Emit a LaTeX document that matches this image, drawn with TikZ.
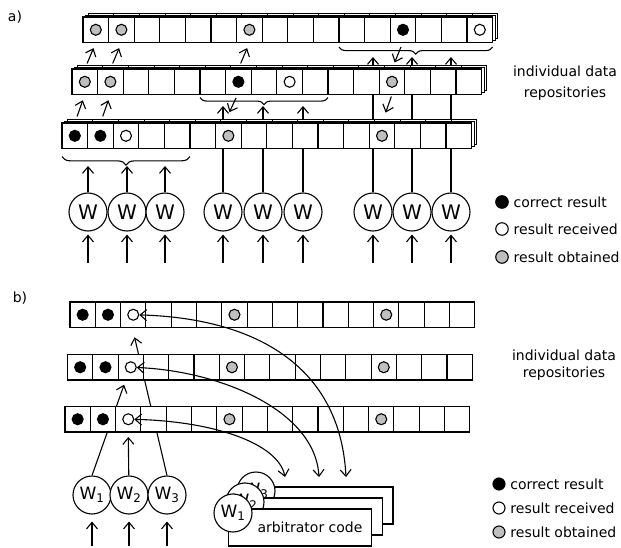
\documentclass[tikz,border=0pt]{standalone}
\usepackage{fontspec}
\setmainfont{DejaVu Sans}
\usepackage{tikz}
\usetikzlibrary{arrows.meta, positioning, decorations.pathreplacing, backgrounds}

\colorlet{okfill}{black}
\colorlet{rcvfill}{white}
\colorlet{gotfill}{gray!50}

\begin{document}
\begin{tikzpicture}[
  x=1pt, y=-1pt,
  line width=1.1pt,
  font=\fontsize{14}{17}\selectfont,
  cell/.style={rectangle, draw, fill=white, minimum width=25.6pt, minimum height=25.6pt, inner sep=0pt, outer sep=0pt},
  bcell/.style={cell, minimum width=25.3pt, minimum height=25.5pt},
  layer/.style={draw, fill=white, line width=0.6pt},
  dot/.style={circle, draw, minimum size=11pt, inner sep=0pt},
  keydot/.style={dot, minimum size=12.5pt},
  wnode/.style={circle, draw, fill=white, minimum size=38pt, inner sep=0pt, font=\fontsize{20}{24}\selectfont},
  wsub/.style={wnode, font=\fontsize{17}{20}\selectfont},
  arbbox/.style={rectangle, draw, fill=white, minimum width=143pt, minimum height=37pt, inner sep=0pt},
  arr/.style={-{Straight Barb[length=6.5pt, width=11pt]}},
  darr/.style={{Straight Barb[length=6.5pt, width=11pt]}-{Straight Barb[length=6.5pt, width=11pt]}},
  brc/.style={decorate, decoration={brace, mirror, amplitude=#1}},
  brc/.default=7pt,
]
\useasboundingbox (0,0) rectangle (621,548);

% a) replicated repositories
\node (lbla) at (15,17) {a)};

\foreach \w/\x in {1/88, 2/127, 3/165, 4/223, 5/263, 6/303, 7/373, 8/412, 9/451} {
  \node[wnode] (wa\w) at (\x,212) {W};
  \coordinate (wa\w-in) at (\x,263);
  \draw[arr, shorten >=3pt] (wa\w-in) -- (wa\w);
}

% stacked rows
\foreach \rw/\x/\y in {a3/83/17, a2/72/69, a1/62/123} {
  \foreach \k in {2,1}
    \foreach \i in {0,...,15}
      \draw[layer] ({\x+25.6*\i+2.5*\k},{\y-2*\k}) rectangle +(25.6,25.6);
  \foreach \i in {0,...,15}
    \node[cell] (\rw-\i) at ({\x+12.8+25.6*\i},{\y+12.8}) {};
}

\foreach \c/\f in {a3-0/gotfill, a3-1/gotfill, a3-6/gotfill, a3-12/okfill, a3-15/rcvfill,
                   a2-0/gotfill, a2-1/gotfill, a2-6/okfill, a2-8/rcvfill, a2-12/gotfill,
                   a1-0/okfill, a1-1/okfill, a1-2/rcvfill, a1-6/gotfill, a1-12/gotfill}
  \node[dot, fill=\f] (d-\c) at (\c) {};

% votes
\draw[brc=8.5pt] ([yshift=-8pt]a1-0.south west) -- ([yshift=-8pt]a1-4.south east);
\draw[brc] ([yshift=-3pt]a2-5.south west) -- ([yshift=-3pt]a2-9.south east);
\draw[brc] ([yshift=-4.5pt]a3-10.south west) -- ([yshift=-4.5pt]a3-15.south east);
\coordinate (tipA1) at (0,166);
\coordinate (tipA2) at (0,106);
\coordinate (tipA3) at (0,57);
\foreach \w in {1,2,3} \draw[arr] (wa\w) -- (wa\w |- tipA1);
\begin{scope}[on background layer={line width=1.1pt}]
  \foreach \w in {4,5,6} \draw[arr] (wa\w) -- (wa\w |- tipA2);
  \foreach \w in {7,8,9} \draw[arr] (wa\w) -- (wa\w |- tipA3);
\end{scope}

\foreach \i in {0,1} \draw[arr, shorten <=7pt, shorten >=6pt] (a1-\i.north) -- (a2-\i.south);
\foreach \i in {0,1,6} \draw[arr, shorten <=6pt, shorten >=6pt] (a2-\i.north) -- (a3-\i.south);
\coordinate (pickA2) at (236,98);
\coordinate (pickA3) at (401,47);
\draw[arr, shorten >=12pt] (pickA2) -- ([xshift=-4pt]a1-6.north);
\draw[arr, shorten >=7pt] (pickA3) -- (a2-12.north);
\draw[arr, shorten <=2pt, shorten >=11pt] (a2-12.south) -- (a1-12.north);

% legend
\node[keydot, fill=okfill] (keyA1) at (502,202) {};
\node[right=1pt of keyA1] (keyA1t) {correct result};
\node[keydot, fill=rcvfill] (keyA2) at (502,229) {};
\node[right=1pt of keyA2] (keyA2t) {result received};
\node[keydot, fill=gotfill] (keyA3) at (502,257) {};
\node[right=1pt of keyA3] (keyA3t) {result obtained};
\node[align=center, font=\fontsize{14}{20.7}\selectfont] (repoA) at (565,83) {individual data\\repositories};

% b) arbitrated repositories
\node (lblb) at (20,298) {b)};

\foreach \rw/\x/\y in {b3/70/302, b2/67.5/354.5, b1/65/406.5}
  \foreach \i in {0,...,15}
    \node[bcell] (\rw-\i) at ({\x+12.65+25.3*\i},{\y+12.75}) {};

\foreach \rw in {b3,b2,b1}
  \foreach \i/\f in {0/okfill, 1/okfill, 2/rcvfill, 6/gotfill, 12/gotfill}
    \node[dot, fill=\f] (d-\rw-\i) at (\rw-\i) {};

\foreach \w/\x in {1/92, 2/129, 3/167} {
  \node[wsub] (wb\w) at (\x,495) {W\textsubscript{\w}};
  \coordinate (wb\w-in) at (\x,546);
  \draw[arr, shorten >=7pt] (wb\w-in) -- (wb\w);
}
\draw[arr, shorten >=5pt] (wb2) -- (b1-2.south);
\begin{scope}[on background layer={line width=1.1pt}]
  \draw[arr, shorten >=5pt] (wb1.north) -- ([xshift=-5pt]b2-2.south);
  \draw[arr, shorten >=10pt] (wb3.north) -- ([xshift=-1pt]b3-2.south);
\end{scope}

% arbitrator stack
\node[arbbox] (arb3) at (321.5,505.5) {};
\node[wsub] (aw3) at (256,491) {W\textsubscript{3}};
\node[arbbox] (arb2) at (311,516.5) {};
\node[wsub] (aw2) at (245,502) {W\textsubscript{2}};
\node[arbbox] (arb1) at (300,527.5) {\hspace*{20pt}arbitrator code};
\node[wsub] (aw1) at (233,513) {W\textsubscript{1}};

\coordinate (arbin1) at (285,477);
\coordinate (arbin2) at (319,477);
\coordinate (arbin3) at (346,477);
\draw[darr] (d-b3-2) .. controls (250,318) and (340,362) .. (arbin3);
\draw[darr] (d-b2-2) .. controls (220,371) and (315,410) .. (arbin2);
\draw[darr] (d-b1-2) .. controls (210,421) and (278,442) .. (arbin1);

% legend
\node[keydot, minimum size=12pt, fill=okfill] (keyB1) at (499,484) {};
\node[right=1pt of keyB1] (keyB1t) {correct result};
\node[keydot, minimum size=12pt, fill=rcvfill] (keyB2) at (499,508) {};
\node[right=1pt of keyB2] (keyB2t) {result received};
\node[keydot, minimum size=12pt, fill=gotfill] (keyB3) at (499,532) {};
\node[right=1pt of keyB3] (keyB3t) {result obtained};
\node[align=center, font=\fontsize{14}{16.7}\selectfont] (repoB) at (564,365) {individual data\\repositories};

\end{tikzpicture}
\end{document}
